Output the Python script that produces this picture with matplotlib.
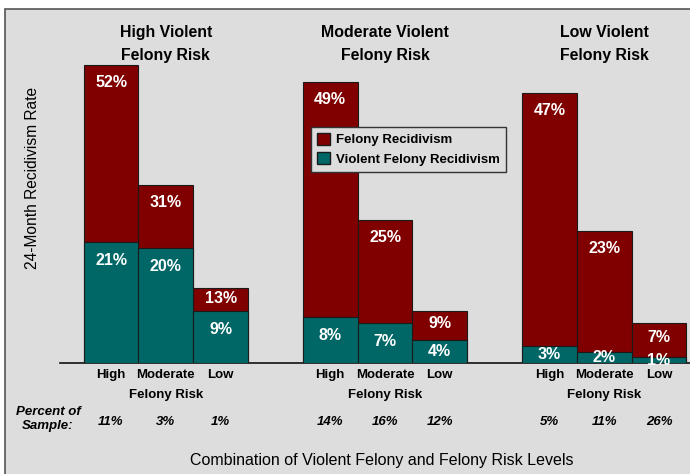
import matplotlib
matplotlib.use("Agg")
import matplotlib.pyplot as plt
from matplotlib.patches import Rectangle, Patch
import matplotlib.transforms as mtransforms

groups = ["High Violent\nFelony Risk", "Moderate Violent\nFelony Risk", "Low Violent\nFelony Risk"]
levels = ["High", "Moderate", "Low"]
felony = [52, 31, 13, 49, 25, 9, 47, 23, 7]
violent = [21, 20, 9, 8, 7, 4, 3, 2, 1]
sample_pct = ["11%", "3%", "1%", "14%", "16%", "12%", "5%", "11%", "26%"]

RED = "#800000"
TEAL = "#006666"
BG = "#DDDDDD"

plt.rcParams["font.family"] = ["Liberation Sans", "DejaVu Sans"]

W, H = 690, 474
fig = plt.figure(figsize=(W / 100, H / 100), dpi=100)
fig.patch.set_facecolor("white")
fig.patches.append(Rectangle((5 / W, -0.01), 1, 1.01 - 9 / H, transform=fig.transFigure,
                             facecolor=BG, edgecolor="#555555", linewidth=1.2, zorder=-5))

UNIT = 54.8          # pixels per bar slot
PXPCT = 5.74         # pixels per percent
ax = fig.add_axes([60 / W, 1 - 363 / H, (690 - 60) / W, (363 - 9) / H])
ax.set_facecolor("none")
for s in ["left", "right", "top"]:
    ax.spines[s].set_visible(False)
ax.spines["bottom"].set_linewidth(1.2)
ax.spines["bottom"].set_color("#111111")
ax.set_yticks([])
ax.set_xticks([])

x = [g * 4 + k for g in range(3) for k in range(3)]
ax.set_xlim(-(111 - 60) / UNIT, (690 - 111) / UNIT)
ax.set_ylim(0, (363 - 9) / PXPCT)

ax.bar(x, felony, width=1.0, color=RED, edgecolor="#1a1a1a", linewidth=0.8, zorder=2)
ax.bar(x, violent, width=1.0, color=TEAL, edgecolor="#1a1a1a", linewidth=0.8, zorder=3)

vfs = 11.5
for xi, f, v in zip(x, felony, violent):
    fy = max(f - 3.05, f - 0.42 * (f - v))
    ax.text(xi, fy, f"{f}%", ha="center", va="center", color="white",
            fontweight="bold", fontsize=vfs, zorder=5)
    vy = max(v - 3.2, v / 2)
    ax.text(xi, vy, f"{v}%", ha="center", va="center", color="white",
            fontweight="bold", fontsize=vfs, zorder=5)

tr = mtransforms.blended_transform_factory(ax.transData, fig.transFigure)
for g in range(3):
    cx = x[g * 3 + 1]
    ax.text(cx, 1 - 44 / H, groups[g], transform=tr, ha="center", va="center",
            fontweight="bold", fontsize=11.4, linespacing=1.6)
    for k in range(3):
        ax.text(x[g * 3 + k], 1 - 375 / H, levels[k], transform=tr, ha="center",
                va="center", fontweight="bold", fontsize=9.5)
        ax.text(x[g * 3 + k], 1 - 422 / H, sample_pct[g * 3 + k], transform=tr,
                ha="center", va="center", fontweight="bold", style="italic", fontsize=9.5)
    ax.text(cx, 1 - 395 / H, "Felony Risk", transform=tr, ha="center", va="center",
            fontweight="bold", fontsize=9.5)

fig.text(48 / W, 1 - 419 / H, "Percent of\nSample:", ha="center", va="center",
         fontweight="bold", style="italic", fontsize=9.5, linespacing=1.31)
fig.text(382 / W, 1 - 460 / H, "Combination of Violent Felony and Felony Risk Levels",
         ha="center", va="center", fontsize=11.5)
fig.text(33 / W, 1 - 178 / H, "24-Month Recidivism Rate", rotation=90,
         ha="center", va="center", fontsize=11.2)

handles = [Patch(facecolor=RED, edgecolor="#1a1a1a"), Patch(facecolor=TEAL, edgecolor="#1a1a1a")]
leg = ax.legend(handles, ["Felony Recidivism", "Violent Felony Recidivism"],
                loc="upper left", bbox_to_anchor=((311 - 60) / 630, 1 - (127 - 9) / 354),
                prop={"weight": "bold", "size": 9.5}, frameon=True, fancybox=False,
                facecolor=BG, edgecolor="#333333", framealpha=1,
                handlelength=1.0, handleheight=1.0, handletextpad=0.45,
                borderpad=0.45, labelspacing=0.45, borderaxespad=0)
leg.get_frame().set_linewidth(1.0)
leg.set_zorder(6)

fig.savefig("out.png", dpi=100, facecolor=fig.get_facecolor())
